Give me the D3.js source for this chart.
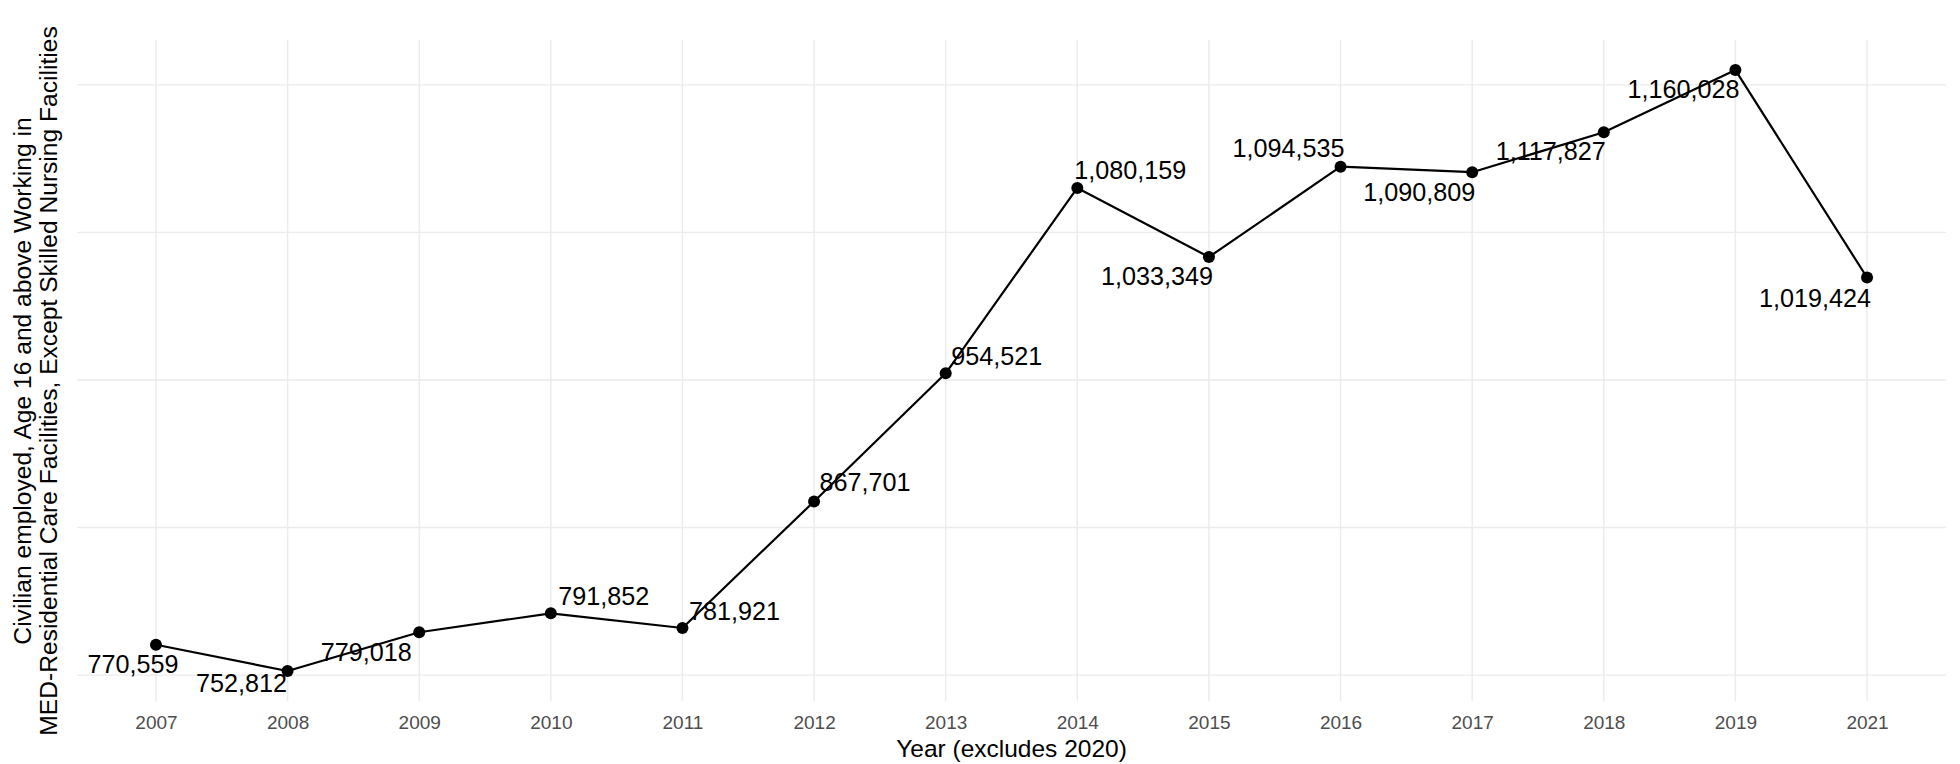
<!DOCTYPE html>
<html>
<head>
<meta charset="utf-8">
<script src="https://cdn.jsdelivr.net/npm/d3@7"></script>
<style>
  html, body { margin: 0; padding: 0; background: #ffffff; }
  svg { display: block; font-family: "Liberation Sans", Arial, sans-serif; }
</style>
</head>
<body>
<svg id="chart" width="1960" height="764"></svg>
<script>
// ---- data ----
const years = ["2007","2008","2009","2010","2011","2012","2013","2014","2015","2016","2017","2018","2019","2021"];
const employed = [770559, 752812, 779018, 791852, 781921, 867701, 954521, 1080159, 1033349, 1094535, 1090809, 1117827, 1160028, 1019424];
const gridValues = [750000, 850000, 950000, 1050000, 1150000];
const xTitle = "Year (excludes 2020)";
const yTitleLines = ["Civilian employed, Age 16 and above Working in", "MED-Residential Care Facilities, Except Skilled Nursing Facilities"];

// ---- layout (label placement, repel-style offsets in px) ----
const labelOffsets = [
  [-23, 19], [-46, 12], [-53, 20], [53, -17], [52, -17], [51, -19], [51, -17],
  [53, -18], [-52, 19], [-52, -19], [-53, 20], [-53, 19], [-52, 19], [-52, 20]
];

const W = 1960, H = 764;
const panel = { left: 77, right: 1946, top: 40, bottom: 701 };
const svg = d3.select("#chart");

const data = years.map((y, i) => ({ year: y, value: employed[i], off: labelOffsets[i] }));

// discrete x scale with ggplot-like 0.6 expansion
const x = d3.scalePoint().domain(years)
  .range([panel.left, panel.right]).padding(0.6);

const ext = d3.extent(employed);
const pad = (ext[1] - ext[0]) * 0.05;
const y = d3.scaleLinear().domain([ext[0] - pad, ext[1] + pad]).range([panel.bottom, panel.top]);

const grid = svg.append("g");
grid.selectAll("line.h").data(gridValues).join("line")
  .attr("x1", panel.left).attr("x2", panel.right)
  .attr("y1", d => y(d)).attr("y2", d => y(d))
  .attr("stroke", "#ebebeb").attr("stroke-width", 1.4);
grid.selectAll("line.v").data(years).join("line")
  .attr("x1", d => x(d)).attr("x2", d => x(d))
  .attr("y1", panel.top).attr("y2", panel.bottom)
  .attr("stroke", "#ebebeb").attr("stroke-width", 1.4);

// x axis (labels only)
const xAxis = d3.axisBottom(x).tickSize(0).tickPadding(0);
const gx = svg.append("g").attr("transform", `translate(0,715.5)`).call(xAxis);
gx.select(".domain").remove();
gx.selectAll("text")
  .attr("fill", "#4d4d4d")
  .attr("font-size", "19px")
  .attr("font-family", "Liberation Sans, Arial, sans-serif");

// line
const line = d3.line().x(d => x(d.year)).y(d => y(d.value));
svg.append("path").datum(data)
  .attr("d", line).attr("fill", "none")
  .attr("stroke", "#000").attr("stroke-width", 2.2)
  .attr("stroke-linejoin", "round");

// points
svg.selectAll("circle.pt").data(data).join("circle")
  .attr("cx", d => x(d.year)).attr("cy", d => y(d.value))
  .attr("r", 6).attr("fill", "#000");

// value labels
const fmt = d3.format(",");
svg.selectAll("text.lbl").data(data).join("text")
  .attr("x", d => x(d.year) + d.off[0])
  .attr("y", d => y(d.value) + d.off[1])
  .attr("text-anchor", "middle")
  .attr("dominant-baseline", "central")
  .attr("font-size", "25.2px")
  .attr("fill", "#000")
  .text(d => fmt(d.value));

// axis titles
svg.append("text")
  .attr("x", (panel.left + panel.right) / 2).attr("y", 757)
  .attr("text-anchor", "middle").attr("font-size", "24.5px").attr("fill", "#000")
  .text(xTitle);

const yc = 381;
yTitleLines.forEach((t, i) => {
  svg.append("text")
    .attr("transform", `translate(${31 + i * 26},${yc}) rotate(-90)`)
    .attr("text-anchor", "middle").attr("font-size", "24.6px").attr("fill", "#000")
    .text(t);
});
</script>
</body>
</html>
